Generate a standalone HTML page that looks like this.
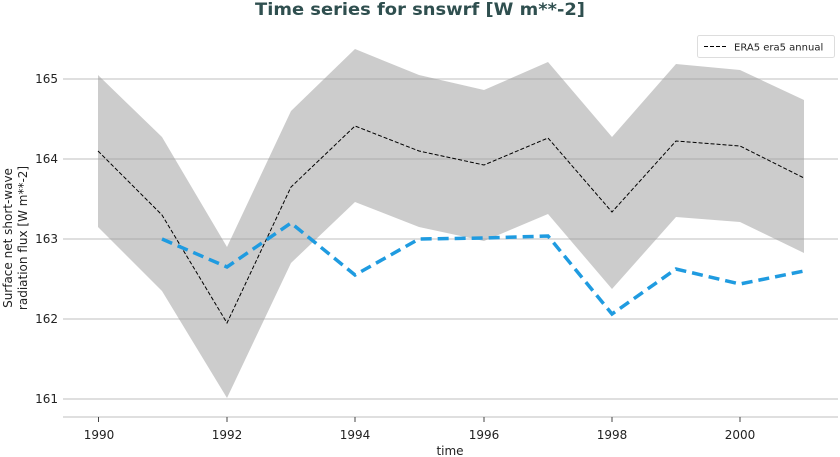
<!DOCTYPE html>
<html><head><meta charset="utf-8"><style>body{margin:0;background:#fff}svg{display:block}text{font-family:"DejaVu Sans","Liberation Sans",sans-serif}</style></head>
<body>
<svg width="840" height="457" viewBox="0 0 840 457" xmlns="http://www.w3.org/2000/svg">
<rect width="840" height="457" fill="#fff"/>
<text x="420" y="15" text-anchor="middle" font-size="17" font-weight="bold" fill="#2f4f4f" textLength="330" lengthAdjust="spacingAndGlyphs">Time series for snswrf [W m**-2]</text>
<polygon fill="#cccccc" points="98,75 162,137 227,247 291,111 355,49 419,75 484,90 548,62 612,137 676,64 740,70 804,100 804,253 740,222 676,217 612,289 548,214 484,241 419,227 355,202 291,263 227,398 162,291 98,227"/>
<g stroke="#999" stroke-opacity="0.5" stroke-width="1.2">
<line x1="63" x2="838" y1="79" y2="79"/><line x1="63" x2="838" y1="159" y2="159"/><line x1="63" x2="838" y1="239" y2="239"/><line x1="63" x2="838" y1="319" y2="319"/><line x1="63" x2="838" y1="399" y2="399"/>
</g>
<line x1="63" x2="838" y1="417" y2="417" stroke="#ccc" stroke-width="1.2"/>
<g stroke="#444" stroke-width="1"><line x1="98.5" x2="98.5" y1="417" y2="422"/><line x1="227" x2="227" y1="417" y2="422"/><line x1="355" x2="355" y1="417" y2="422"/><line x1="484" x2="484" y1="417" y2="422"/><line x1="612" x2="612" y1="417" y2="422"/><line x1="740" x2="740" y1="417" y2="422"/></g>
<polyline fill="none" stroke="#000" stroke-width="1" stroke-dasharray="4,2" points="98,151 162,215 227,323 291,187 355,126 419,151 484,165 548,138 612,212 676,141 740,146 804,178"/>
<polyline fill="none" stroke="#1f9be0" stroke-width="3.5" stroke-dasharray="11,6" points="162,239 227,267 291,223 355,275 419,239 484,238 548,236 612,314 676,269 740,284 804,271"/>
<g font-size="12" fill="#222" text-anchor="end"><text x="58" y="83">165</text><text x="58" y="163">164</text><text x="58" y="243">163</text><text x="58" y="323">162</text><text x="58" y="403">161</text></g>
<g font-size="12" fill="#222" text-anchor="middle"><text x="99" y="439">1990</text><text x="227" y="439">1992</text><text x="355" y="439">1994</text><text x="484" y="439">1996</text><text x="612" y="439">1998</text><text x="740" y="439">2000</text></g>
<text x="450" y="455" font-size="12" fill="#222" text-anchor="middle">time</text>
<text transform="translate(12,238) rotate(-90)" font-size="12" fill="#222" text-anchor="middle">Surface net short-wave</text>
<text transform="translate(27,238) rotate(-90)" font-size="12" fill="#222" text-anchor="middle">radiation flux [W m**-2]</text>
<rect x="697.5" y="35.5" width="137" height="22" rx="2" fill="#fff" stroke="#ddd"/>
<line x1="704" x2="726" y1="46.5" y2="46.5" stroke="#000" stroke-dasharray="4,2"/>
<text x="734" y="50.5" font-size="10" fill="#222">ERA5 era5 annual</text>
</svg>
</body></html>
